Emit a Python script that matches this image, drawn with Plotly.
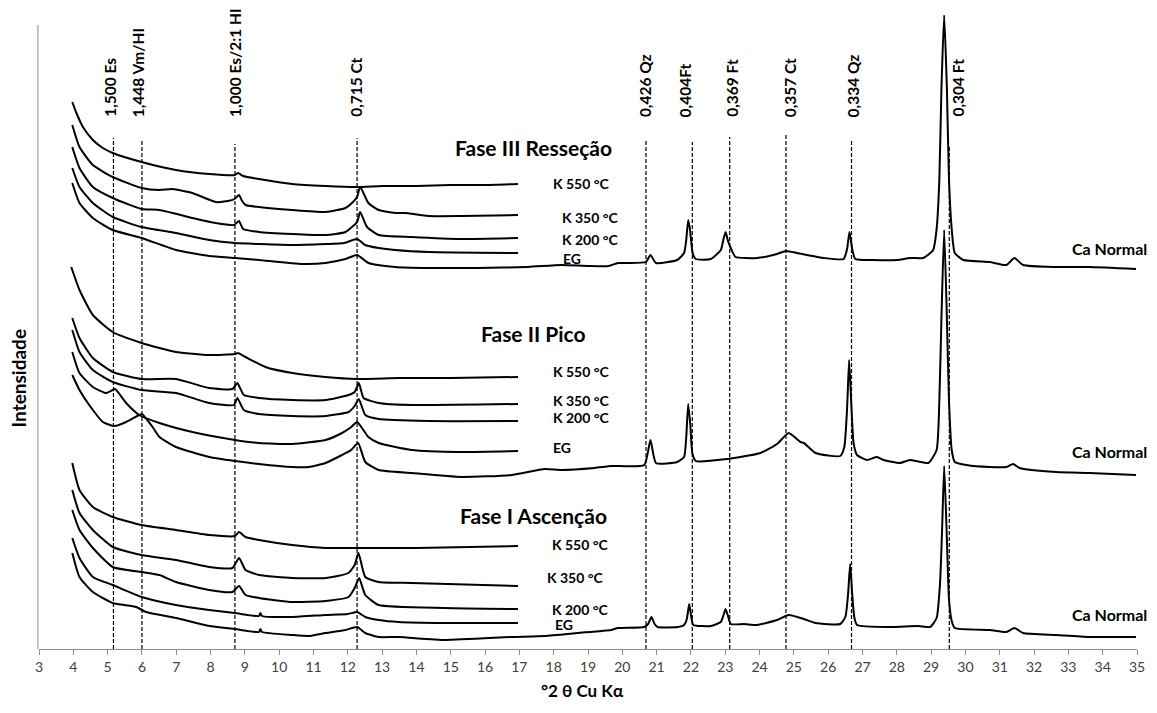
import plotly.graph_objects as go

# ---- diffractograms: 2theta (deg) and intensity (a.u., stacked offsets) ----
# Fase III Resseção
tt_f3_k550 = [3.97, 4.09, 4.28, 4.57, 4.86, 5.15, 5.99, 6.99, 7.96, 8.71, 8.80, 8.95, 9.41, 10.38, 11.35, 12.27, 13.0, 14.0, 15.0, 16.0, 16.96]
in_f3_k550 = [547, 536, 522, 509, 501, 496, 487, 479, 475, 474, 476, 473, 470, 465, 463, 462, 463, 463, 464, 464, 465]

tt_f3_k350 = [3.97, 4.18, 4.57, 5.15, 5.99, 6.51, 6.89, 7.47, 8.15, 8.5, 8.70, 8.83, 8.92, 9.02, 9.41, 10.38, 11.35, 11.93, 12.15, 12.27, 12.36, 12.6, 12.9, 13.38, 13.67, 14.35, 15.31, 16.96]
in_f3_k350 = [524, 502, 484, 472, 461, 459, 460, 456, 447, 448, 450, 454, 448, 444, 442, 439, 437, 441, 447, 452, 462, 446, 439, 436, 436, 433, 433, 434]

tt_f3_k200 = [3.97, 4.18, 4.57, 5.15, 5.99, 6.51, 7.47, 8.15, 8.68, 8.83, 8.95, 9.41, 10.38, 11.35, 11.93, 12.27, 12.36, 12.56, 12.9, 13.86, 15.31, 16.96]
in_f3_k200 = [502, 481, 462, 451, 440, 439, 431, 426, 424, 428, 420, 417, 415, 414, 417, 427, 437, 422, 414, 412, 410, 411]

tt_f3_eg = [3.97, 4.18, 4.57, 5.15, 5.99, 6.99, 7.96, 8.71, 9.41, 10.38, 11.35, 11.9, 12.27, 12.5, 12.9, 13.38, 14.35, 16.96]
in_f3_eg = [481, 462, 446, 432, 422, 416, 409, 406, 405, 404, 405, 406, 410, 404, 401, 399, 397, 396]

tt_f3_ca = [3.97, 4.18, 4.57, 5.15, 5.99, 6.99, 7.96, 8.71, 9.41, 10.67, 11.35, 11.93, 12.27, 12.6, 13.38, 14.35, 15.8, 17.25, 18.22, 19.0, 19.6, 19.87,
            20.16, 20.69, 20.82, 20.98, 21.6, 21.8, 21.86, 21.92, 21.97, 22.05, 22.14, 22.58, 22.87, 22.95, 23.01, 23.08, 23.16, 23.30, 23.93,
            24.51, 24.77, 25.09, 25.38, 25.87, 26.45, 26.55, 26.62, 26.70, 26.79, 27.32, 28.0, 28.39, 28.77, 29.06, 29.16, 29.24, 29.30, 29.38,
            29.46, 29.52, 29.60, 29.69, 29.94, 30.71, 31.19, 31.43, 31.68, 32.65, 33.61, 34.97]
in_f3_ca = [466, 446, 431, 419, 411, 399, 393, 391, 389, 385, 386, 390, 394, 386, 382, 381, 381, 382, 384, 383, 383, 386,
            386, 387, 394, 386, 389, 396, 408, 429, 420, 396, 390, 390, 399, 410, 417, 408, 401, 392, 391,
            395, 398, 396, 394, 391, 390, 400, 417, 400, 390, 389, 389, 391, 391, 399, 420, 470, 560, 634,
            560, 470, 420, 396, 389, 387, 384, 391, 384, 382, 382, 380]

# Fase II Pico
tt_f2_k550 = [3.94, 4.18, 4.57, 5.15, 5.99, 6.51, 6.99, 7.96, 8.71, 8.80, 9.02, 9.6, 10.38, 11.35, 12.27, 13.5, 15.0, 16.96]
in_f2_k550 = [382, 359, 334, 317, 306, 301, 297, 294, 295, 296, 292, 282, 276, 272, 270, 271, 271, 272]

tt_f2_k350 = [3.97, 4.18, 4.57, 5.15, 5.99, 6.99, 7.96, 8.64, 8.78, 8.97, 9.41, 10.38, 11.35, 12.02, 12.2, 12.32, 12.46, 12.9, 13.86, 16.96]
in_f2_k350 = [331, 311, 291, 277, 270, 270, 261, 260, 266, 254, 251, 249, 249, 254, 257, 266, 251, 246, 244, 245]

tt_f2_k200 = [3.97, 4.18, 4.57, 5.15, 5.99, 6.99, 7.96, 8.68, 8.78, 8.97, 9.41, 10.38, 11.35, 12.02, 12.2, 12.32, 12.51, 12.9, 14.35, 16.96]
in_f2_k200 = [319, 297, 279, 267, 259, 256, 246, 244, 251, 239, 235, 233, 233, 237, 243, 250, 234, 230, 228, 228]

tt_f2_eg = [3.97, 4.18, 4.57, 4.96, 5.15, 5.22, 5.54, 5.92, 6.51, 7.47, 8.71, 9.41, 10.38, 11.35, 11.83, 12.1, 12.27, 12.6, 12.9, 13.86, 15.31, 16.96]
in_f2_eg = [297, 276, 262, 256, 259, 260, 246, 234, 226, 217, 209, 206, 205, 209, 216, 222, 227, 212, 206, 199, 197, 198]

tt_f2_ca = [3.97, 4.18, 4.57, 4.86, 5.2, 5.54, 5.92, 6.0, 6.31, 6.51, 6.99, 7.96, 8.71, 9.41, 10.38, 10.86, 11.35, 11.83, 12.1, 12.3, 12.51,
            12.9, 13.86, 15.31, 16.77, 17.74, 18.22, 19.19, 19.68, 20.64, 20.82, 20.98, 21.6, 21.8, 21.86, 21.92, 21.98, 22.04, 22.14,
            23.06, 24.03, 24.51, 24.85, 25.19, 25.29, 25.63, 26.35, 26.47, 26.55, 26.61, 26.68, 26.74, 26.84, 27.13, 27.42, 27.61,
            28.09, 28.38, 28.92, 29.16, 29.24, 29.30, 29.38, 29.46, 29.52, 29.60, 29.69, 30.03, 30.71, 31.19, 31.39, 31.58, 32.65,
            33.61, 34.97]
in_f2_ca = [274, 259, 239, 227, 223, 227, 234, 235, 222, 212, 202, 192, 188, 185, 182, 182, 186, 194, 199, 206, 187,
            179, 176, 172, 174, 180, 179, 181, 183, 184, 209, 186, 187, 192, 210, 245, 225, 196, 188,
            190, 196, 205, 216, 207, 206, 196, 193, 202, 240, 289, 240, 206, 194, 189, 192, 189,
            186, 189, 186, 199, 249, 330, 419, 330, 249, 199, 187, 184, 182, 182, 185, 181, 177,
            176, 174]

# Fase I Ascenção
tt_f1_k550 = [3.97, 4.18, 4.57, 5.15, 5.99, 6.99, 7.96, 8.71, 8.83, 9.02, 9.41, 10.38, 11.35, 12.27, 14.0, 16.96]
in_f1_k550 = [186, 159, 142, 132, 124, 119, 114, 113, 117, 112, 109, 104, 101, 101, 101, 103]

tt_f1_k350 = [3.97, 4.18, 4.57, 5.15, 5.99, 6.99, 7.96, 8.64, 8.83, 9.02, 9.41, 10.38, 11.35, 12.02, 12.2, 12.31, 12.51, 12.9, 13.86, 16.96]
in_f1_k350 = [159, 136, 119, 102, 94, 89, 82, 81, 91, 79, 74, 71, 71, 76, 84, 96, 72, 67, 66, 63]

tt_f1_k200 = [3.97, 4.18, 4.57, 5.15, 5.99, 6.51, 6.99, 7.96, 8.64, 8.83, 9.02, 9.41, 10.38, 11.35, 12.02, 12.2, 12.33, 12.51, 12.9, 14.83, 16.96]
in_f1_k200 = [139, 119, 101, 82, 77, 74, 67, 59, 57, 63, 54, 51, 47, 48, 52, 61, 71, 54, 44, 41, 40]

tt_f1_eg = [3.97, 4.18, 4.57, 5.15, 5.99, 6.99, 7.96, 8.71, 9.41, 9.45, 9.5, 10.38, 11.35, 12.0, 12.27, 12.51, 12.9, 13.48, 14.83, 16.96]
in_f1_eg = [111, 91, 72, 64, 52, 44, 39, 36, 33, 36, 33, 32, 34, 35, 37, 32, 29, 27, 26, 26]

tt_f1_ca = [3.97, 4.18, 4.57, 5.15, 5.83, 6.12, 6.99, 7.96, 8.71, 9.41, 9.45, 9.5, 10.38, 10.86, 11.35, 11.93, 12.27, 12.51, 12.9,
            13.48, 14.83, 16.77, 17.74, 18.7, 19.67, 19.87, 20.64, 20.75, 20.85, 20.94, 21.03, 21.61, 21.8, 21.88, 21.95, 22.01, 22.07,
            22.58, 22.87, 22.95, 23.01, 23.08, 23.16, 23.55, 23.93, 24.51, 24.85, 25.29, 25.63, 26.35, 26.5, 26.58, 26.64, 26.70,
            26.76, 26.84, 27.8, 28.63, 28.97, 29.16, 29.26, 29.32, 29.38, 29.45, 29.52, 29.60, 29.69, 30.71, 31.19, 31.43, 31.68,
            32.65, 33.61, 34.97]
in_f1_ca = [96, 72, 57, 46, 42, 37, 31, 23, 20, 17, 20, 17, 14, 13, 16, 19, 22, 16, 12,
            12, 9, 12, 13, 16, 19, 21, 22, 25, 32, 25, 22, 22, 24, 30, 45, 32, 24,
            23, 27, 34, 40, 33, 25, 25, 24, 29, 34, 30, 26, 25, 32, 55, 85, 55,
            32, 24, 22, 23, 22, 31, 66, 120, 183, 120, 50, 28, 21, 19, 17, 21, 16,
            14, 12, 12]

# ---- reference d-spacings (nm) marked by dashed lines ----
ref_labels = ["1,500 Es", "1,448 Vm/HI", "1,000 Es/2:1 HI", "0,715 Ct", "0,426 Qz",
              "0,404Ft", "0,369 Ft", "0,357 Ct", "0,334 Qz", "0,304 Ft"]
ref_2theta = [5.17, 6.00, 8.71, 12.27, 20.69, 22.04, 23.13, 24.77, 26.68, 29.53]
ref_line_top = [511, 508, 505, 511, 508, 507, 512, 514, 509, 504]
ref_label_x = [5.05, 5.88, 8.71, 12.22, 20.65, 21.84, 23.19, 24.88, 26.72, 29.77]

x_ticks = list(range(3, 36))

FONT = "Lato"
BLACK = "#000000"

traces = [
    (tt_f3_k550, in_f3_k550), (tt_f3_k350, in_f3_k350), (tt_f3_k200, in_f3_k200),
    (tt_f3_eg, in_f3_eg), (tt_f3_ca, in_f3_ca),
    (tt_f2_k550, in_f2_k550), (tt_f2_k350, in_f2_k350), (tt_f2_k200, in_f2_k200),
    (tt_f2_eg, in_f2_eg), (tt_f2_ca, in_f2_ca),
    (tt_f1_k550, in_f1_k550), (tt_f1_k350, in_f1_k350), (tt_f1_k200, in_f1_k200),
    (tt_f1_eg, in_f1_eg), (tt_f1_ca, in_f1_ca),
]

fig = go.Figure()
for tt, inten in traces:
    fig.add_trace(go.Scatter(x=tt, y=inten, mode="lines",
                             line=dict(color=BLACK, width=2, shape="spline", smoothing=0.5),
                             hoverinfo="skip", showlegend=False, cliponaxis=True))

shapes = []
for xv, top in zip(ref_2theta, ref_line_top):
    shapes.append(dict(type="line", xref="x", yref="y", x0=xv, x1=xv, y0=0, y1=top,
                       line=dict(color=BLACK, width=1.2, dash="4px,2px"), layer="above"))
# vertical axis line
shapes.append(dict(type="line", xref="paper", yref="y", x0=-0.001, x1=-0.001, y0=0, y1=624,
                   line=dict(color="#8c8c8c", width=1)))

annotations = []
for txt, xv in zip(ref_labels, ref_label_x):
    annotations.append(dict(x=xv, y=530, xref="x", yref="y", text=txt, showarrow=False,
                            textangle=-90, xanchor="center", yanchor="bottom",
                            font=dict(family=FONT, size=15.5, color=BLACK, weight="bold")))

# phase titles
for txt, yv in [("Fase III Resseção", 502), ("Fase II Pico", 316), ("Fase I Ascenção", 134)]:
    annotations.append(dict(x=17.40, y=yv, xref="x", yref="y", text=txt, showarrow=False,
                            xanchor="center", yanchor="middle",
                            font=dict(family=FONT, size=21, color=BLACK, weight="bold")))

# treatment labels
treat = [
    ("K 550 °C", 17.93, 466), ("K 350 °C", 18.17, 432), ("K 200 °C", 18.17, 410), ("EG", 18.20, 391),
    ("K 550 °C", 17.91, 278), ("K 350 °C", 17.91, 249), ("K 200 °C", 17.91, 232), ("EG", 17.91, 202),
    ("K 550 °C", 17.88, 105), ("K 350 °C", 17.74, 72), ("K 200 °C", 17.88, 40), ("EG", 17.98, 25),
]
for txt, xv, yv in treat:
    annotations.append(dict(x=xv, y=yv, xref="x", yref="y", text=txt, showarrow=False,
                            xanchor="left", yanchor="middle",
                            font=dict(family=FONT, size=14, color=BLACK, weight="bold")))
for yv in [401, 198, 35]:
    annotations.append(dict(x=1.011, y=yv, xref="paper", yref="y", text="Ca Normal", showarrow=False,
                            xanchor="right", yanchor="middle",
                            font=dict(family=FONT, size=16, color=BLACK, weight="bold")))

# axis titles
annotations.append(dict(x=0.495, y=-0.065, xref="paper", yref="paper", text="°2 θ Cu Kα",
                        showarrow=False, xanchor="center", yanchor="middle",
                        font=dict(family=FONT, size=17, color=BLACK, weight="bold")))
annotations.append(dict(x=-0.019, y=0.427, xref="paper", yref="paper", text="Intensidade",
                        showarrow=False, textangle=-90, xanchor="center", yanchor="middle",
                        font=dict(family=FONT, size=19, color=BLACK, weight="bold")))

fig.update_layout(
    width=1157, height=713,
    margin=dict(l=39, r=16, t=15, b=64),
    paper_bgcolor="white", plot_bgcolor="white",
    shapes=shapes, annotations=annotations,
    xaxis=dict(range=[3, 35], tickmode="array", tickvals=x_ticks, ticktext=[str(t) for t in x_ticks],
               showline=True, linecolor="#8c8c8c", linewidth=1, ticks="outside", ticklen=5,
               tickcolor="#8c8c8c", showgrid=False, zeroline=False,
               tickfont=dict(family=FONT, size=14, color="#404040")),
    yaxis=dict(range=[0, 634], showticklabels=False, showgrid=False, zeroline=False,
               showline=False, ticks=""),
)

fig.write_html("out.html")
